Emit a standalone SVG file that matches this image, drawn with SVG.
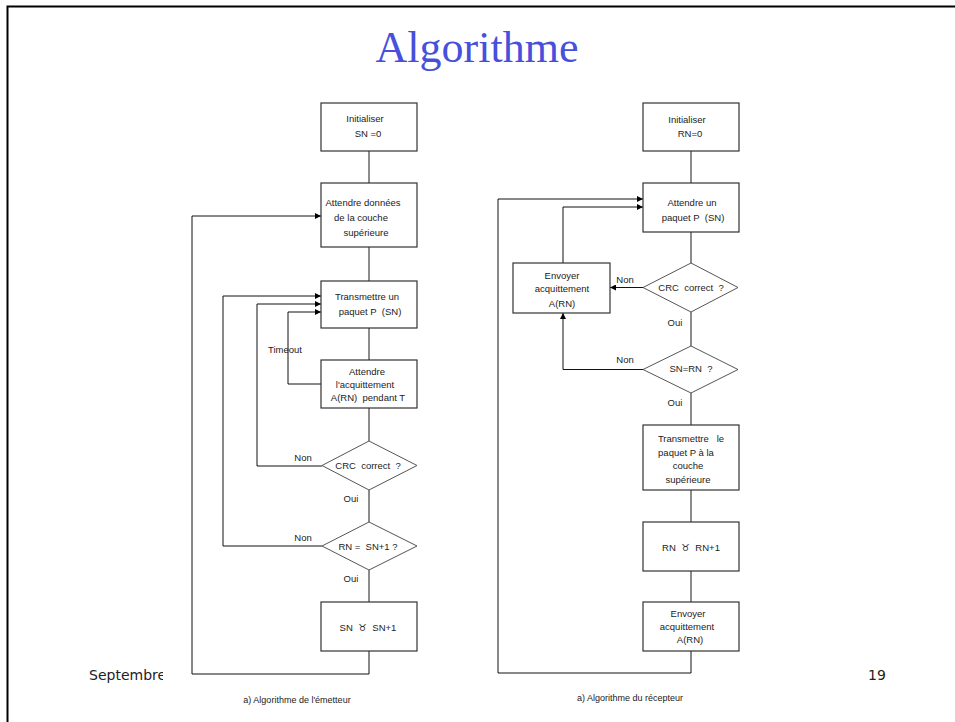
<svg xmlns="http://www.w3.org/2000/svg" width="955" height="722" viewBox="0 0 955 722">
<style>
.box{fill:#fff;stroke:#333;stroke-width:1.2}
.dia{fill:#fff;stroke:#555;stroke-width:1}
.con{fill:none;stroke:#666;stroke-width:1.5}
.loop{fill:none;stroke:#111;stroke-width:1}
.t{font-family:"Liberation Sans",Arial,sans-serif;font-size:9.5px;fill:#222;text-anchor:middle;white-space:pre}
.cap{font-family:"Liberation Sans",Arial,sans-serif;font-size:9px;fill:#222;text-anchor:middle}
.foot{font-family:"DejaVu Sans",Verdana,sans-serif;font-size:14px;fill:#222}
</style>
<defs>
<marker id="ah" viewBox="0 0 8 8" refX="8" refY="4" markerWidth="6" markerHeight="6" markerUnits="userSpaceOnUse" orient="auto">
<path d="M0,0 L8,4 L0,8 Z" fill="#000"/>
</marker>
<clipPath id="clipSept"><rect x="0" y="650" width="163" height="50"/></clipPath>
</defs>
<rect x="0" y="0" width="955" height="722" fill="#fff"/>
<path d="M7.5,722 V6.5 H955" fill="none" stroke="#000" stroke-width="2"/>
<text x="477" y="62" font-family="'Liberation Serif','Times New Roman',serif" font-size="44" fill="#4650DC" text-anchor="middle">Algorithme</text>
<text class="foot" x="89" y="680" clip-path="url(#clipSept)">Septembre</text>
<text class="foot" x="868" y="680">19</text>

<g id="connectors">
<path class="con" d="M369,151 V183"/>
<path class="con" d="M369,247 V281"/>
<path class="con" d="M369,328 V360"/>
<path class="con" d="M369,408 V441"/>
<path class="con" d="M369,490 V522"/>
<path class="con" d="M369,570 V602"/>
<path class="loop" d="M369,651 V674 H192 V216 H321" marker-end="url(#ah)"/>
<path class="loop" d="M322,546 H223 V296 H321" marker-end="url(#ah)"/>
<path class="loop" d="M322,466 H257 V304 H321" marker-end="url(#ah)"/>
<path class="loop" d="M321,384 H288 V312 H321" marker-end="url(#ah)"/>
<path class="con" d="M691,151 V183"/>
<path class="con" d="M691,232 V263"/>
<path class="con" d="M691,312 V346"/>
<path class="con" d="M691,393 V425"/>
<path class="con" d="M691,490 V522"/>
<path class="con" d="M691,571 V602"/>
<path class="loop" d="M691,651 V673 H498 V199 H643" marker-end="url(#ah)"/>
<path class="loop" d="M563,263 V207 H643" marker-end="url(#ah)"/>
<path class="loop" d="M643,287.5 H610" marker-end="url(#ah)"/>
<path class="loop" d="M643,369.5 H563 V313" marker-end="url(#ah)"/>
</g>

<g id="init-sn">
<rect class="box" x="321" y="103" width="96" height="48"/>
<text class="t" x="365" y="122">Initialiser</text>
<text class="t" x="368" y="137">SN =0</text>
</g>
<g id="attendre-donnees">
<rect class="box" x="321" y="183" width="96" height="64"/>
<text class="t" x="363" y="205.5">Attendre données</text>
<text class="t" x="361" y="221">de la couche</text>
<text class="t" x="366" y="236">supérieure</text>
</g>
<g id="transmettre">
<rect class="box" x="321" y="281" width="96" height="47"/>
<text class="t" x="367" y="300">Transmettre un</text>
<text class="t" x="370" y="314.5">paquet P  (SN)</text>
</g>
<g id="timeout-label">
<text class="t" x="285" y="352.5">Timeout</text>
</g>
<g id="attendre-acq">
<rect class="box" x="321" y="360" width="96" height="48"/>
<text class="t" x="367" y="374.5">Attendre</text>
<text class="t" x="365" y="387.5">l'acquittement</text>
<text class="t" x="368" y="400.5">A(RN)  pendant T</text>
</g>
<g id="crc-left">
<polygon class="dia" points="369,441 417,465.5 369,490 322,465.5"/>
<text class="t" x="368" y="469">CRC  correct  ?</text>
<text class="t" x="303" y="461">Non</text>
<text class="t" x="351" y="501.5">Oui</text>
</g>
<g id="rn-test">
<polygon class="dia" points="369,522 417,546 369,570 322,546"/>
<text class="t" x="368" y="549.5">RN =  SN+1 ?</text>
<text class="t" x="303" y="541">Non</text>
<text class="t" x="351" y="581.5">Oui</text>
</g>
<g id="sn-inc">
<rect class="box" x="321" y="602" width="96" height="49"/>
<text class="t" x="368" y="630.5">SN  ♉︎  SN+1</text>
</g>
<g id="caption-left">
<text class="cap" x="297" y="703">a) Algorithme de l'émetteur</text>
</g>

<g id="init-rn">
<rect class="box" x="643" y="103" width="96" height="48"/>
<text class="t" x="687" y="123">Initialiser</text>
<text class="t" x="690" y="136.5">RN=0</text>
</g>
<g id="attendre-paquet">
<rect class="box" x="643" y="183" width="96" height="49"/>
<text class="t" x="692" y="205.5">Attendre un</text>
<text class="t" x="693" y="220.5">paquet P  (SN)</text>
</g>
<g id="envoyer-acq-1">
<rect class="box" x="513" y="263" width="97" height="50"/>
<text class="t" x="562" y="278.5">Envoyer</text>
<text class="t" x="562" y="291.5">acquittement</text>
<text class="t" x="562" y="306.5">A(RN)</text>
</g>
<g id="crc-right">
<polygon class="dia" points="691,263 738,287.5 691,312 643,287.5"/>
<text class="t" x="691" y="291">CRC  correct  ?</text>
<text class="t" x="625" y="283">Non</text>
<text class="t" x="675" y="325.5">Oui</text>
</g>
<g id="sn-rn">
<polygon class="dia" points="691,346 738,369.5 691,393 643,369.5"/>
<text class="t" x="691" y="372">SN=RN  ?</text>
<text class="t" x="625" y="363">Non</text>
<text class="t" x="675" y="405.5">Oui</text>
</g>
<g id="transmettre-sup">
<rect class="box" x="643" y="425" width="96" height="65"/>
<text class="t" x="691" y="441.5">Transmettre   le</text>
<text class="t" x="686" y="455.5">paquet P à la</text>
<text class="t" x="688" y="468.5">couche</text>
<text class="t" x="688" y="482.5">supérieure</text>
</g>
<g id="rn-inc">
<rect class="box" x="643" y="522" width="96" height="49"/>
<text class="t" x="691" y="550.5">RN  ♉︎  RN+1</text>
</g>
<g id="envoyer-acq-2">
<rect class="box" x="643" y="602" width="96" height="49"/>
<text class="t" x="688" y="616.5">Envoyer</text>
<text class="t" x="687" y="629.5">acquittement</text>
<text class="t" x="690" y="642.5">A(RN)</text>
</g>
<g id="caption-right">
<text class="cap" x="630" y="701">a) Algorithme du récepteur</text>
</g>
</svg>
